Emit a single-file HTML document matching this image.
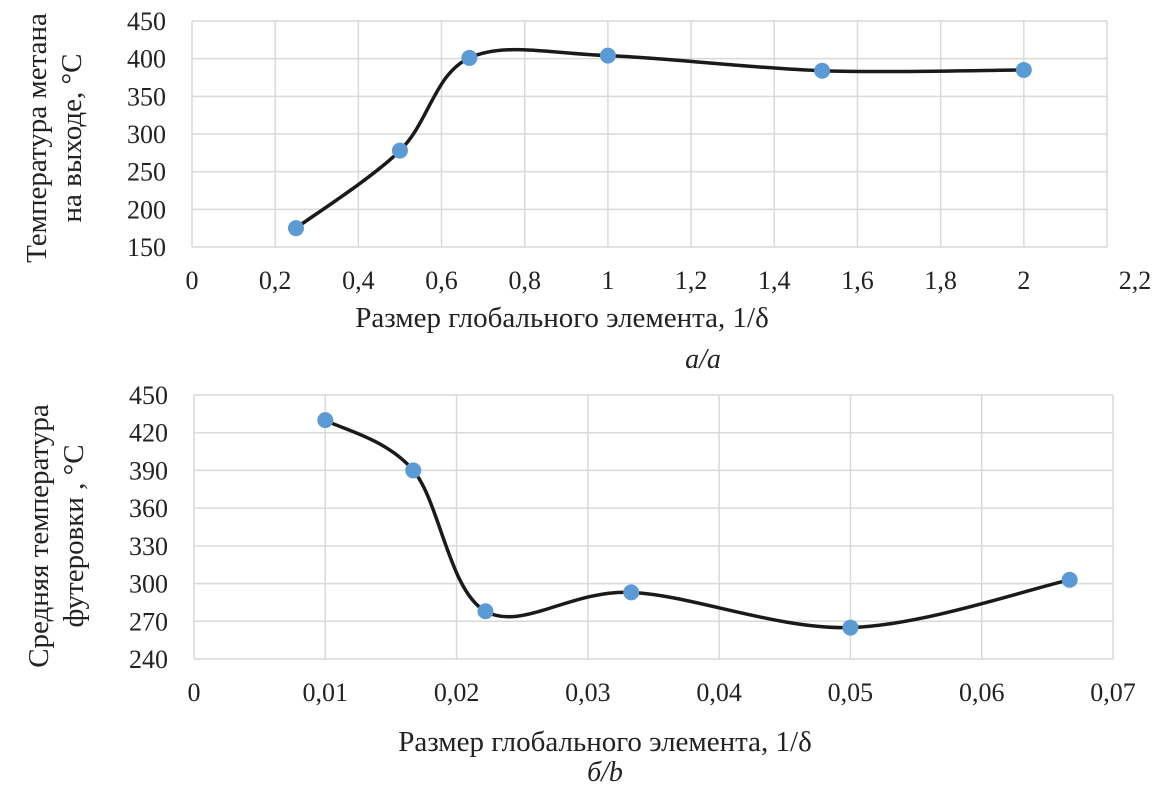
<!DOCTYPE html>
<html><head><meta charset="utf-8"><style>
body{margin:0;background:#fff;}
svg text{font-family:"Liberation Serif","DejaVu Serif",serif;fill:#222;}
</style></head><body>
<svg id="svg" width="1152" height="790"></svg>
<script>
const topX=[0.25,0.5,0.667,1,1.515,2];
const topY=[175,278,401,404,384,385];
const topXTicks=[0,0.2,0.4,0.6,0.8,1,1.2,1.4,1.6,1.8,2,2.2];
const topYTicks=[150,200,250,300,350,400,450];
const botX=[0.01,0.0167,0.0222,0.0333,0.05,0.0667];
const botY=[430,390,278,293,265,303];
const botXTicks=[0,0.01,0.02,0.03,0.04,0.05,0.06,0.07];
const botYTicks=[240,270,300,330,360,390,420,450];
const NS="http://www.w3.org/2000/svg";
const svg=document.getElementById('svg');
function mk(tag,attrs,parent){const e=document.createElementNS(NS,tag);for(const k in attrs)e.setAttribute(k,attrs[k]);(parent||svg).appendChild(e);return e;}
function fmt(v,d){return v.toFixed(d).replace(/\.?0+$/,'').replace('.',',')||'0';}
function chart(o){
  const g=mk('g',{});
  
  
  const sx=v=>o.x0+(v-o.xmin)/(o.xmax-o.xmin)*(o.x1-o.x0);
  const sy=v=>o.y1-(v-o.ymin)/(o.ymax-o.ymin)*(o.y1-o.y0);
  o.yt.forEach(t=>{
    const l=mk('line',{x1:o.x0,x2:o.x1,y1:sy(t),y2:sy(t),stroke:'#d9d9d9','stroke-width':1.5},g);
    
    const tx=mk('text',{x:o.x0-26,y:sy(t)+9,'text-anchor':'end','font-size':26},g);
    
    tx.textContent=t;
  });
  o.xt.forEach((t,i)=>{
    const l=mk('line',{x1:sx(t),x2:sx(t),y1:o.y0,y2:o.y1,stroke:'#d9d9d9','stroke-width':1.5},g);
    
    const off=(o.lastOff&&i===o.xt.length-1)?o.lastOff:0;
    const tx=mk('text',{x:sx(t)+off,y:o.y1+42,'text-anchor':'middle','font-size':26},g);
    
    tx.textContent=fmt(t,o.dec);
  });
  const pts=o.xs.map((v,i)=>[sx(v),sy(o.ys[i])]);
  let d='M'+pts[0][0]+','+pts[0][1];
  for(let i=0;i<pts.length-1;i++){
    const p0=pts[Math.max(0,i-1)],p1=pts[i],p2=pts[i+1],p3=pts[Math.min(pts.length-1,i+2)];
    const t=0.5/3;
    const c1=[p1[0]+(p2[0]-p0[0])*t,p1[1]+(p2[1]-p0[1])*t];
    const c2=[p2[0]-(p3[0]-p1[0])*t,p2[1]-(p3[1]-p1[1])*t];
    d+=` C${c1[0]},${c1[1]} ${c2[0]},${c2[1]} ${p2[0]},${p2[1]}`;
  }
  const path=mk('path',{d:d,fill:'none',stroke:'#1a1a1a','stroke-width':3.5},g);
  
  pts.forEach(p=>{
    const c=mk('circle',{cx:p[0],cy:p[1],r:8,fill:'#5b9bd5'},g);
    
  });
}
chart({name:'chart-a',x0:192,x1:1107,y0:21,y1:247,xmin:0,xmax:2.2,ymin:150,ymax:450,xs:topX,ys:topY,xt:topXTicks,yt:topYTicks,dec:1,lastOff:28});
chart({name:'chart-b',x0:194,x1:1113,y0:395,y1:659,xmin:0,xmax:0.07,ymin:240,ymax:450,xs:botX,ys:botY,xt:botXTicks,yt:botYTicks,dec:2});
</script>
<svg width="1152" height="790" style="position:absolute;left:0;top:0">
<text x="562" y="327" text-anchor="middle" font-size="29">Размер глобального элемента, 1/δ</text>
<text x="703" y="368" text-anchor="middle" font-size="28" font-style="italic">а/a</text>
<text transform="translate(46,138) rotate(-90)" text-anchor="middle" font-size="29">Температура метана</text>
<text transform="translate(81,138) rotate(-90)" text-anchor="middle" font-size="29">на выходе, °С</text>
<text x="605" y="751" text-anchor="middle" font-size="29">Размер глобального элемента, 1/δ</text>
<text x="605" y="781" text-anchor="middle" font-size="28" font-style="italic">б/b</text>
<text transform="translate(48,536) rotate(-90)" text-anchor="middle" font-size="29">Средняя температура</text>
<text transform="translate(83,536) rotate(-90)" text-anchor="middle" font-size="29">футеровки , °С</text>
</svg>
</body></html>
